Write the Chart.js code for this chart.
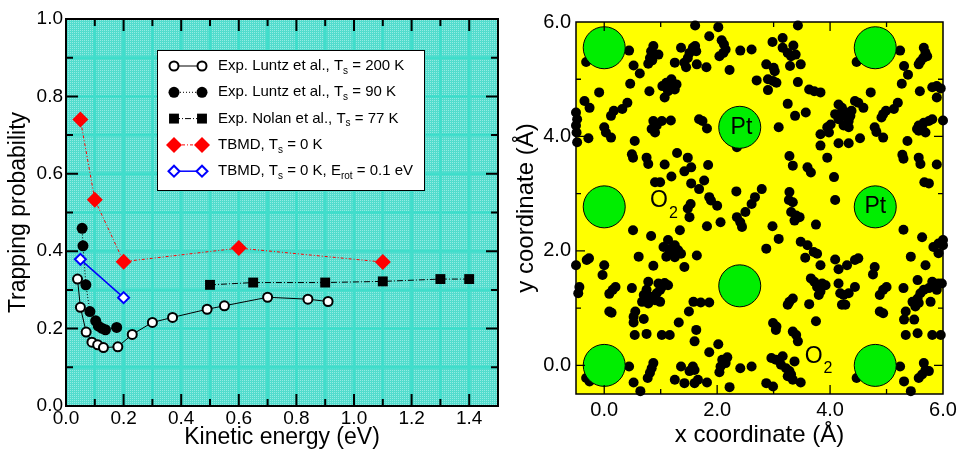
<!DOCTYPE html>
<html>
<head>
<meta charset="utf-8">
<title>Trapping probability and O2 sites</title>
<script src="https://cdn.jsdelivr.net/npm/chart.js@4.4.1/dist/chart.umd.min.js"></script>
<style>
  body { margin: 0; background: #fff; width: 965px; height: 449px; overflow: hidden; }
  #trapChart { position: absolute; left: 0; top: 0; }
  #siteChart { position: absolute; left: 510px; top: 0; }
</style>
</head>
<body>
<canvas id="trapChart" width="510" height="449"></canvas>
<canvas id="siteChart" width="455" height="449"></canvas>
<script>
// --- left panel: trapping probability vs kinetic energy ---
const energy200 = [0.04, 0.05, 0.07, 0.09, 0.11, 0.13, 0.18, 0.23, 0.30, 0.37, 0.49, 0.55, 0.70, 0.84, 0.91];
const trap200   = [0.328, 0.255, 0.191, 0.165, 0.158, 0.151, 0.153, 0.185, 0.216, 0.229, 0.250, 0.259, 0.281, 0.276, 0.270];
const energy90  = [0.056, 0.059, 0.069, 0.083, 0.103, 0.112, 0.124, 0.137, 0.176];
const trap90    = [0.459, 0.414, 0.313, 0.244, 0.220, 0.207, 0.201, 0.197, 0.203];
const energy77  = [0.50, 0.65, 0.90, 1.10, 1.30, 1.40];
const trap77    = [0.313, 0.319, 0.319, 0.322, 0.328, 0.328];
const energyTB  = [0.05, 0.10, 0.20, 0.60, 1.10];
const trapTB    = [0.740, 0.533, 0.373, 0.408, 0.372];
const energyRot = [0.05, 0.20];
const trapRot   = [0.379, 0.280];
const energyTicks = [0, 0.2, 0.4, 0.6, 0.8, 1.0, 1.2, 1.4];
const trapTicks   = [0, 0.2, 0.4, 0.6, 0.8, 1.0];

// --- right panel: Pt sites and O2 positions (Angstrom) ---
const ptSites = [[0, 0], [0, 2.77], [0, 5.55], [2.4, 1.39], [2.4, 4.16], [4.8, 0], [4.8, 2.77], [4.8, 5.55]];
const ptLabels = [[2.43, 4.16], [4.8, 2.77]];
const o2Labels = [[0.97, 2.87], [3.71, 0.16]];
const siteTicks = [0, 2, 4, 6];
const o2Top = [
  [1.61,5.94],[2.02,5.91],[3.43,5.94],[1.86,5.75],[2.08,5.68],[2.12,5.61],[2.15,5.52],[2.11,5.46],[2.04,5.40],[2.41,5.50],
  [2.61,5.52],[2.22,5.16],[3.16,5.72],[2.98,5.65],[3.16,5.55],[3.25,5.46],[3.31,5.40],[3.35,5.59],[3.39,5.43],[3.48,5.26],
  [3.29,5.23],[2.87,5.26],[3.00,5.20],[3.02,5.14],[2.90,5.00],[2.99,4.97],[3.05,4.94],[2.90,4.81],[2.70,4.98],[3.43,4.95],
  [1.36,5.55],[1.51,5.46],[1.57,5.55],[1.63,5.49],[1.61,5.58],[1.48,5.37],[1.42,5.29],[1.45,5.21],[1.64,5.26],[1.81,5.21],
  [1.25,5.29],[0.87,5.58],[0.83,5.49],[0.90,5.43],[0.81,5.37],[0.85,5.33],[0.78,5.27],[0.96,5.43],[0.63,5.10],[0.52,5.24],
  [0.44,5.50],[0.46,4.92],[-0.32,5.30],[-0.09,4.77],[1.03,4.88],[1.10,4.94],[1.19,5.00],[1.22,4.88],[1.25,4.82],[1.13,4.79],
  [1.07,4.68],[1.28,4.91],[0.80,4.79],[4.47,5.30],[4.55,5.39],[5.24,5.50],[5.31,5.23],[5.38,5.08],[5.27,4.92],[5.66,5.55],
  [5.69,5.46],[5.72,5.40],[5.65,5.37],[5.60,5.31],[5.57,5.26],[5.59,4.79],[5.81,4.86],[5.89,4.88],[5.96,4.84],[5.89,4.68],
  [4.72,4.77],[4.44,4.62],[4.50,4.59],[4.59,4.50],[4.99,4.45],[4.94,4.39],[4.91,4.33],[5.20,4.59],[5.13,4.48],[3.63,4.82],
  [3.83,4.77],[3.72,4.79],[3.25,4.57],[3.38,4.36],[3.57,4.42],[3.09,4.16]
];
const o2Middle = [
  [-0.50,4.42],[-0.48,4.30],[-0.50,4.19],[-0.49,4.07],[-0.48,3.90],[-0.35,4.62],[-0.26,4.50],[-0.28,3.97],[0.00,4.16],[0.03,4.07],
  [0.12,3.98],[0.12,4.36],[0.17,4.45],[0.32,4.48],[0.41,4.59],[0.54,3.92],[0.49,3.69],[0.51,3.63],[0.87,4.27],[0.93,4.19],
  [0.84,4.13],[0.90,4.07],[1.02,4.27],[1.18,4.28],[0.75,3.63],[0.78,3.52],[1.07,3.51],[1.19,3.30],[1.29,3.71],[1.48,3.63],
  [1.54,3.46],[1.42,3.39],[1.68,4.30],[1.74,4.27],[1.82,4.14],[1.84,3.50],[2.35,3.81],[3.28,3.66],[3.34,3.49],[3.60,3.46],
  [3.66,3.37],[3.83,3.84],[3.95,3.63],[4.07,3.29],[4.09,2.89],[4.09,4.39],[4.01,4.21],[3.95,4.16],[3.98,4.07],[3.83,4.04],
  [4.15,4.56],[4.21,4.50],[4.27,4.42],[4.30,4.33],[4.33,4.27],[4.21,4.36],[4.15,4.30],[4.24,4.19],[4.33,4.16],[4.38,4.45],
  [4.36,4.36],[4.15,3.88],[4.33,3.88],[4.53,3.97],[4.79,4.16],[4.82,4.08],[4.94,3.98],[5.37,3.92],[5.28,3.68],[5.30,3.61],
  [5.57,4.19],[5.63,4.13],[5.69,4.07],[5.66,4.24],[5.75,4.27],[5.57,4.10],[5.54,4.13],[5.81,4.30],[6.00,4.28],[5.57,3.63],
  [5.60,3.52],[5.89,3.51],[5.67,3.20],[5.75,3.18],[0.99,3.20],[0.90,3.20],[1.54,3.18],[1.68,3.08],[1.77,3.23],[1.86,2.94],
  [1.89,2.88],[2.00,2.79],[2.34,3.04],[2.79,3.08],[2.67,2.94],[2.61,2.82],[2.50,2.68],[2.35,2.59],[2.41,2.50],[2.44,2.42],
  [2.06,2.50],[1.82,2.43],[1.53,2.82],[1.48,2.74],[1.51,2.59],[3.28,3.03],[3.27,2.89],[3.34,2.85],[3.31,2.68],[3.40,2.62],
  [3.46,2.59],[3.37,2.53],[3.75,2.46],[2.98,2.43],[3.09,2.21],[2.87,2.04],[3.48,2.16],[3.60,2.10],[3.71,1.98],[3.77,1.95],
  [3.56,1.88],[3.83,1.75],[4.09,1.85],[4.15,1.68],[4.30,1.75],[4.44,1.84],[4.50,1.87],[5.30,2.37],[5.63,2.24],[5.43,1.90],
  [5.83,2.07],[5.92,2.13],[6.00,2.19],[6.00,2.10],[5.92,1.96],[5.69,1.75]
];
const o2Bottom = [
  [0.51,2.36],[0.83,2.26],[0.61,1.90],[0.87,1.74],[1.05,2.07],[1.13,2.19],[1.19,2.04],[1.25,2.10],[1.31,2.01],[1.36,1.95],
  [1.10,1.90],[1.25,1.89],[1.42,1.72],[1.16,1.98],[1.34,2.36],[1.64,1.92],[-0.31,1.84],[-0.27,1.87],[-0.50,1.75],[0.00,1.75],
  [-0.03,1.58],[-0.44,1.37],[-0.46,1.26],[0.20,1.37],[0.15,1.32],[0.09,1.25],[0.09,0.94],[0.13,0.92],[0.49,1.35],[0.78,1.46],
  [0.75,1.32],[0.70,1.23],[0.81,1.20],[0.67,1.11],[0.78,1.08],[0.90,1.14],[0.96,1.43],[1.02,1.37],[1.07,1.44],[1.13,1.40],
  [0.99,1.32],[0.93,1.26],[0.99,1.11],[0.55,0.94],[0.52,0.85],[0.70,0.81],[0.52,0.75],[0.75,0.55],[0.54,0.53],[1.02,0.53],
  [1.16,0.53],[1.32,0.75],[1.50,0.94],[1.58,1.11],[1.71,1.10],[1.86,1.10],[1.63,0.62],[1.60,0.42],[2.02,0.37],[1.86,0.23],
  [2.18,0.14],[2.09,0.10],[2.15,0.04],[2.06,-0.02],[2.04,-0.12],[2.41,-0.05],[2.61,-0.02],[2.22,-0.38],[1.82,-0.30],[1.66,-0.25],
  [1.60,-0.31],[1.57,-0.02],[1.60,-0.08],[1.51,-0.10],[1.36,-0.02],[1.42,-0.31],[1.25,-0.25],[0.87,0.04],[0.84,-0.05],[0.81,-0.13],
  [0.77,-0.22],[0.64,-0.45],[0.52,-0.30],[0.44,-0.02],[-0.32,-0.22],[-0.26,-0.28],
  [2.96,0.13],[3.04,0.10],[3.16,0.16],[3.13,0.01],[3.22,-0.05],[3.28,-0.10],[3.31,-0.16],[3.25,-0.19],[3.34,-0.25],[3.37,0.07],
  [2.99,-0.37],[2.87,-0.31],[3.48,-0.30],[3.43,0.42],[3.34,0.59],[3.40,0.53],[2.99,0.74],[3.05,0.68],[3.04,0.62],[3.25,1.06],
  [3.28,1.11],[3.34,1.17],[3.63,1.07],[3.75,0.77],[3.66,1.52],[3.72,1.46],[3.77,1.37],[3.83,1.29],[3.86,1.43],[3.92,1.40],
  [3.80,1.23],[4.15,1.43],[4.18,1.26],[4.24,1.23],[4.33,1.26],[4.44,1.37],[4.27,1.06],[4.21,1.06],[4.79,1.72],[4.76,1.59],
  [4.94,1.32],[5.00,1.37],[4.88,1.23],[4.88,0.94],[4.94,0.91],[5.30,1.35],[5.34,0.94],[5.31,0.80],[5.49,0.80],[5.34,0.53],
  [5.55,0.56],[5.46,1.11],[5.55,1.17],[5.60,1.26],[5.66,1.32],[5.57,1.09],[5.51,1.03],[5.78,1.11],[5.81,1.46],[5.87,1.37],
  [5.92,1.43],[5.98,1.43],[5.89,1.32],[5.75,1.35],[5.55,1.49],[5.81,0.53],[5.96,0.53],[5.24,-0.02],[5.31,-0.28],[5.43,-0.45],
  [5.66,0.04],[5.69,-0.08],[5.75,-0.10],[5.63,-0.16],[5.57,-0.22],[4.47,-0.22]
];

const FONT = "'Liberation Sans', Arial, Helvetica, sans-serif";
Chart.defaults.font.family = FONT;
Chart.defaults.color = "#000";

const pairs = (xs, ys) => xs.map((v, i) => ({ x: v, y: ys[i] }));
const points = list => list.map(p => ({ x: p[0], y: p[1] }));

// speckled turquoise fill like the original plot background
function speckle(ctx) {
  const c = document.createElement("canvas");
  c.width = 2; c.height = 2;
  const g = c.getContext("2d");
  g.fillStyle = "#52dccd"; g.fillRect(0, 0, 2, 2);
  g.fillStyle = "#94ebe2"; g.fillRect(0, 0, 1, 1);
  return ctx.createPattern(c, "repeat");
}

// inward ticks on all four sides
function drawTicks(ctx, chart, xVals, yVals, isMajorX, isMajorY, major, minor) {
  const { chartArea: a, scales: { x, y } } = chart;
  ctx.beginPath();
  xVals.forEach(v => {
    const px = x.getPixelForValue(v);
    const len = isMajorX(v) ? major : minor;
    ctx.moveTo(px, a.bottom); ctx.lineTo(px, a.bottom - len);
    ctx.moveTo(px, a.top); ctx.lineTo(px, a.top + len);
  });
  yVals.forEach(v => {
    const py = y.getPixelForValue(v);
    const len = isMajorY(v) ? major : minor;
    ctx.moveTo(a.left, py); ctx.lineTo(a.left + len, py);
    ctx.moveTo(a.right, py); ctx.lineTo(a.right - len, py);
  });
  ctx.stroke();
}

// text with subscripts: even parts normal, odd parts subscript
function subText(ctx, parts, x, y, size, subSize) {
  parts.forEach((p, i) => {
    const sub = i % 2 === 1;
    ctx.font = (sub ? subSize : size) + "px " + FONT;
    ctx.fillText(p, x, sub ? y + size * 0.33 : y);
    x += ctx.measureText(p).width;
  });
}

const legendRows = [
  { parts: ["Exp. Luntz et al., T", "s", " = 200 K"], color: "#000", dash: [], lw: 1, style: "circle", r: 4.5, fill: "#fff", bw: 2 },
  { parts: ["Exp. Luntz et al., T", "s", " = 90 K"], color: "#000", dash: [1, 2], lw: 1, style: "circle", r: 5.5, fill: "#000", bw: 0 },
  { parts: ["Exp. Nolan et al., T", "s", " = 77 K"], color: "#000", dash: [6, 2, 1, 2], lw: 1, style: "rect", r: 7, fill: "#000", bw: 0 },
  { parts: ["TBMD, T", "s", " = 0 K"], color: "#ff0000", dash: [3, 2, 1, 2], lw: 1, style: "rectRot", r: 8, fill: "#ff0000", bw: 0 },
  { parts: ["TBMD, T", "s", " = 0 K, E", "rot", " = 0.1 eV"], color: "#0000ff", dash: [], lw: 1.5, style: "rectRot", r: 5.5, fill: "#fff", bw: 2 }
];

const trapDecor = {
  id: "trapDecor",
  beforeDatasetsDraw(chart) {
    const { ctx, chartArea: a, scales: { x, y } } = chart;
    ctx.save();
    ctx.fillStyle = speckle(ctx);
    ctx.fillRect(a.left, a.top, a.right - a.left, a.bottom - a.top);
    ctx.strokeStyle = "#40ddcb";
    ctx.lineWidth = 3;
    ctx.beginPath();
    for (let i = 1; i < 15; i++) {
      const px = x.getPixelForValue(i / 10);
      ctx.moveTo(px, a.top); ctx.lineTo(px, a.bottom);
    }
    for (let i = 1; i < 10; i++) {
      const py = y.getPixelForValue(i / 10);
      ctx.moveTo(a.left, py); ctx.lineTo(a.right, py);
    }
    ctx.stroke();
    ctx.restore();
  },
  afterDatasetsDraw(chart) {
    const { ctx, chartArea: a } = chart;
    ctx.save();
    ctx.strokeStyle = "#000";
    ctx.lineWidth = 2;
    ctx.strokeRect(a.left, a.top, a.right - a.left, a.bottom - a.top);
    const xs = [], ys = [];
    for (let i = 1; i < 15; i++) xs.push(i / 10);
    for (let i = 1; i < 10; i++) ys.push(i / 10);
    const even = v => Math.round(v * 10) % 2 === 0;
    drawTicks(ctx, chart, xs, ys, even, even, 12, 7);

    // legend box
    const L = 157, T = 50, R = 424, B = 190;
    ctx.fillStyle = "#fff";
    ctx.fillRect(L, T, R - L, B - T);
    ctx.lineWidth = 1;
    ctx.strokeStyle = "#000";
    ctx.strokeRect(L + 0.5, T + 0.5, R - L, B - T);
    legendRows.forEach((row, i) => {
      const cy = 66 + i * 26.3;
      ctx.setLineDash(row.dash);
      ctx.strokeStyle = row.color;
      ctx.lineWidth = row.lw;
      ctx.beginPath(); ctx.moveTo(174, cy); ctx.lineTo(202, cy); ctx.stroke();
      ctx.setLineDash([]);
      ctx.fillStyle = row.fill;
      ctx.lineWidth = row.bw;
      [174, 202].forEach(px => Chart.helpers.drawPoint(ctx, { pointStyle: row.style, radius: row.r, rotation: 0, borderWidth: row.bw }, px, cy));
      ctx.fillStyle = "#000";
      ctx.textBaseline = "middle";
      ctx.textAlign = "left";
      subText(ctx, row.parts, 218, cy, 15, 10);
    });
    ctx.restore();
  }
};

new Chart(document.getElementById("trapChart").getContext("2d"), {
  type: "scatter",
  data: {
    datasets: [
      { data: pairs(energyRot, trapRot), showLine: true, borderColor: "#0000ff", borderWidth: 1.5,
        pointStyle: "rectRot", pointRadius: 5.5, pointBorderWidth: 2, pointBorderColor: "#0000ff", pointBackgroundColor: "#fff" },
      { data: pairs(energyTB, trapTB), showLine: true, borderColor: "#ff0000", borderWidth: 1, borderDash: [3, 2, 1, 2],
        pointStyle: "rectRot", pointRadius: 8, pointBorderWidth: 0, pointBackgroundColor: "#ff0000" },
      { data: pairs(energy200, trap200), showLine: true, borderColor: "#000", borderWidth: 1,
        pointStyle: "circle", pointRadius: 4.5, pointBorderWidth: 2, pointBorderColor: "#000", pointBackgroundColor: "#fff" },
      { data: pairs(energy90, trap90), showLine: true, borderColor: "#000", borderWidth: 1, borderDash: [1, 2],
        pointStyle: "circle", pointRadius: 5.5, pointBorderWidth: 0, pointBackgroundColor: "#000" },
      { data: pairs(energy77, trap77), showLine: true, borderColor: "#000", borderWidth: 1, borderDash: [6, 2, 1, 2],
        pointStyle: "rect", pointRadius: 7, pointBorderWidth: 0, pointBackgroundColor: "#000" }
    ]
  },
  options: {
    responsive: false,
    animation: false,
    devicePixelRatio: 1,
    layout: { padding: { top: 19, right: 12, left: 0, bottom: 0 } },
    plugins: { legend: { display: false }, tooltip: { enabled: false } },
    scales: {
      x: {
        type: "linear", min: 0, max: 1.5,
        afterFit: s => { s.height = 43; },
        afterBuildTicks: s => { s.ticks = energyTicks.map(v => ({ value: v })); },
        grid: { display: false, drawTicks: false },
        border: { display: false },
        ticks: { autoSkip: false, maxRotation: 0, padding: 1, font: { size: 19 }, callback: v => v.toFixed(1) },
        title: { display: true, text: "Kinetic energy (eV)", font: { size: 23, lineHeight: 1 }, padding: { top: 0, bottom: 0 } }
      },
      y: {
        type: "linear", min: 0, max: 1,
        afterFit: s => { s.width = 66; },
        afterBuildTicks: s => { s.ticks = trapTicks.map(v => ({ value: v })); },
        grid: { display: false, drawTicks: false },
        border: { display: false },
        ticks: { autoSkip: false, padding: 3, font: { size: 19 }, callback: v => v.toFixed(1) },
        title: { display: true, text: "Trapping probability", font: { size: 23, lineHeight: 1 }, padding: { top: 7, bottom: 0 } }
      }
    }
  },
  plugins: [trapDecor]
});

// --- right panel ---
const siteDecor = {
  id: "siteDecor",
  beforeDatasetsDraw(chart) {
    const { ctx, chartArea: a } = chart;
    ctx.save();
    ctx.fillStyle = "#ffff00";
    ctx.fillRect(a.left, a.top, a.right - a.left, a.bottom - a.top);
    ctx.restore();
  },
  afterDatasetsDraw(chart) {
    const { ctx, chartArea: a, scales: { x, y } } = chart;
    ctx.save();
    ctx.strokeStyle = "#000";
    ctx.lineWidth = 1.3;
    const vals = [0, 1, 2, 3, 4, 5];
    const even = v => v % 2 === 0;
    drawTicks(ctx, chart, vals, vals, even, even, 9, 5);
    ctx.lineWidth = 1.5;
    ctx.strokeRect(a.left, a.top, a.right - a.left, a.bottom - a.top);

    ctx.fillStyle = "#000";
    ctx.textAlign = "center";
    ctx.textBaseline = "middle";
    ctx.font = "23px " + FONT;
    ptLabels.forEach(p => ctx.fillText("Pt", x.getPixelForValue(p[0]), y.getPixelForValue(p[1])));
    ctx.textAlign = "left";
    o2Labels.forEach(p => {
      const px = x.getPixelForValue(p[0]) - 9, py = y.getPixelForValue(p[1]);
      ctx.font = "23px " + FONT;
      ctx.fillText("O", px, py);
      const w = ctx.measureText("O").width;
      ctx.font = "16px " + FONT;
      ctx.fillText("2", px + w + 1, py + 12);
    });
    ctx.restore();
  }
};

new Chart(document.getElementById("siteChart").getContext("2d"), {
  type: "scatter",
  data: {
    datasets: [
      { data: points(ptSites), pointRadius: 21, pointBackgroundColor: "#00ee00", pointBorderColor: "#000", pointBorderWidth: 1 },
      { data: points(o2Top.concat(o2Middle, o2Bottom)), pointRadius: 5, pointBackgroundColor: "#000", pointBorderWidth: 0, clip: false }
    ]
  },
  options: {
    responsive: false,
    animation: false,
    devicePixelRatio: 1,
    layout: { padding: { top: 21, right: 16, left: 0, bottom: 0 } },
    plugins: { legend: { display: false }, tooltip: { enabled: false } },
    scales: {
      x: {
        type: "linear", min: -0.5, max: 6,
        afterFit: s => { s.height = 55; },
        afterBuildTicks: s => { s.ticks = siteTicks.map(v => ({ value: v })); },
        grid: { display: false, drawTicks: false },
        border: { display: false },
        ticks: { autoSkip: false, maxRotation: 0, padding: 4, font: { size: 20 }, callback: v => v.toFixed(1) },
        title: { display: true, text: "x coordinate (Å)", font: { size: 24, lineHeight: 1 }, padding: { top: 0, bottom: 2 } }
      },
      y: {
        type: "linear", min: -0.5, max: 6,
        afterFit: s => { s.width = 66; },
        afterBuildTicks: s => { s.ticks = siteTicks.map(v => ({ value: v })); },
        grid: { display: false, drawTicks: false },
        border: { display: false },
        ticks: { autoSkip: false, padding: 5, font: { size: 20 }, callback: v => v.toFixed(1) },
        title: { display: true, text: "y coordinate (Å)", font: { size: 24, lineHeight: 1 }, padding: { top: 4, bottom: 0 } }
      }
    }
  },
  plugins: [siteDecor]
});
</script>
</body>
</html>
